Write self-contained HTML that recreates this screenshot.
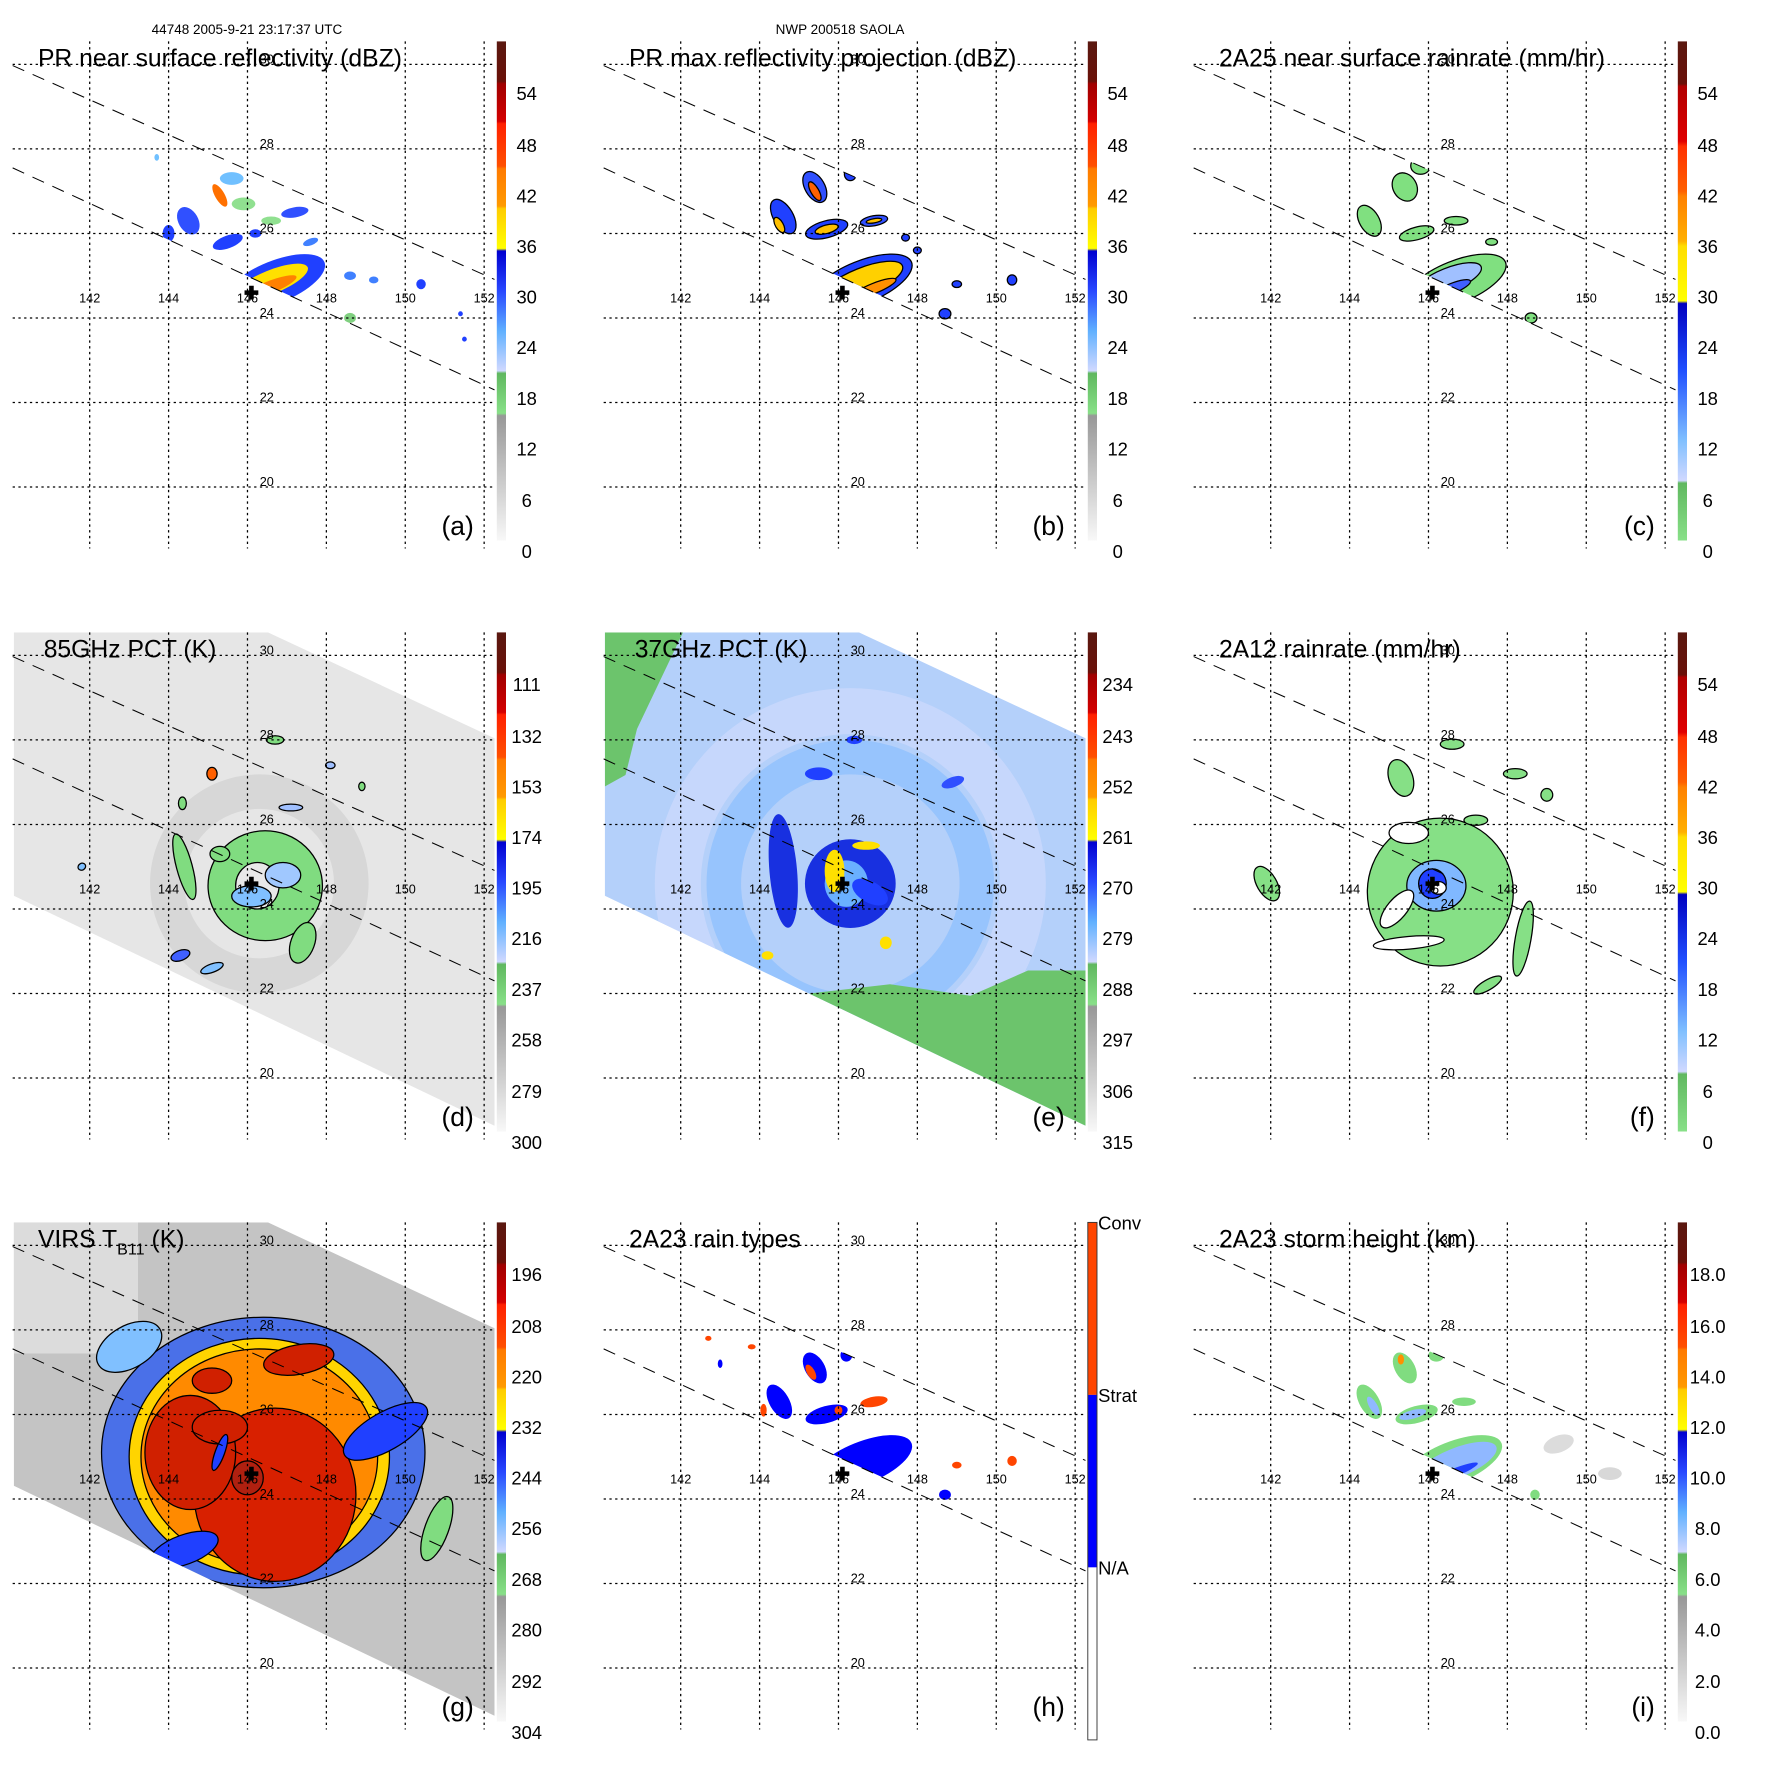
<!DOCTYPE html>
<html><head><meta charset="utf-8">
<style>
html,body{margin:0;padding:0;background:#fff}
svg{display:block;font-family:"Liberation Sans",sans-serif}
</style></head>
<body>
<svg id="fig" width="1771" height="1771" viewBox="0 0 1771 1771" xmlns="http://www.w3.org/2000/svg">
<defs>
<linearGradient id="gRain" x1="0" y1="0" x2="0" y2="1">
<stop offset="0" stop-color="#5a1810"/><stop offset="0.08" stop-color="#6a1008"/>
<stop offset="0.085" stop-color="#a00000"/><stop offset="0.16" stop-color="#d40000"/>
<stop offset="0.165" stop-color="#ff2000"/><stop offset="0.25" stop-color="#ff5000"/>
<stop offset="0.255" stop-color="#ff7a00"/><stop offset="0.33" stop-color="#ff9a00"/>
<stop offset="0.335" stop-color="#ffcc00"/><stop offset="0.415" stop-color="#ffff00"/>
<stop offset="0.42" stop-color="#0000d0"/><stop offset="0.5" stop-color="#2848ff"/>
<stop offset="0.58" stop-color="#60b0ff"/><stop offset="0.66" stop-color="#d0d8ff"/>
<stop offset="0.665" stop-color="#60b860"/><stop offset="0.745" stop-color="#88e088"/>
<stop offset="0.75" stop-color="#989898"/><stop offset="1" stop-color="#f8f8f8"/>
</linearGradient>
<linearGradient id="gRate" x1="0" y1="0" x2="0" y2="1">
<stop offset="0" stop-color="#5a1810"/><stop offset="0.085" stop-color="#6a1008"/>
<stop offset="0.09" stop-color="#b00000"/><stop offset="0.2" stop-color="#e00000"/>
<stop offset="0.21" stop-color="#ff3000"/><stop offset="0.3" stop-color="#ff6000"/>
<stop offset="0.31" stop-color="#ff8000"/><stop offset="0.4" stop-color="#ffb000"/>
<stop offset="0.41" stop-color="#ffdd00"/><stop offset="0.52" stop-color="#ffff00"/>
<stop offset="0.525" stop-color="#0000c0"/><stop offset="0.66" stop-color="#2050ff"/>
<stop offset="0.8" stop-color="#80c0ff"/><stop offset="0.88" stop-color="#d0d8ff"/>
<stop offset="0.885" stop-color="#60b860"/><stop offset="1" stop-color="#88e088"/>
</linearGradient>
<clipPath id="cpSwath"><polygon points="12,36 233,36 430,128 430,465 12,265"/></clipPath>
<clipPath id="cpPR"><polygon points="11,57 430,243 430,339 11,146"/></clipPath>
</defs>
</svg>
<script>
// ---------- data ----------
const lonTicks = [142,144,146,148,150,152];
const latTicks = [30,28,26,24,22,20];
const cbLabelsA = ["54","48","42","36","30","24","18","12","6","0"];
const cbLabelsD = ["111","132","153","174","195","216","237","258","279","300"];
const cbLabelsE = ["234","243","252","261","270","279","288","297","306","315"];
const cbLabelsG = ["196","208","220","232","244","256","268","280","292","304"];
const cbLabelsI = ["18.0","16.0","14.0","12.0","10.0","8.0","6.0","4.0","2.0","0.0"];
const cbLabelsH = ["Conv","Strat","N/A"];
const stormCenter = [146.1, 24.6];
// blobs: [lon, lat, rLon, rLat, rotationDeg, fill]
const blobsA = [
 [146.7,24.85,1.35,0.5,-22,"#2040ff"],[146.6,24.85,1.0,0.28,-22,"#ffe000"],[146.5,24.7,0.8,0.15,-22,"#ff8000"],
 [144.5,26.3,0.25,0.35,-30,"#3050ff"],[145.3,26.9,0.12,0.3,-30,"#ff7000"],[145.6,27.3,0.3,0.15,0,"#70c0ff"],
 [145.5,25.8,0.4,0.15,-20,"#2040ff"],[146.2,26.0,0.15,0.1,0,"#2040ff"],[147.2,26.5,0.35,0.12,-10,"#3050ff"],
 [147.6,25.8,0.2,0.08,-20,"#4080ff"],[148.6,25.0,0.15,0.1,0,"#4080ff"],[150.4,24.8,0.12,0.12,0,"#2040ff"],
 [148.6,24.0,0.15,0.12,0,"#80d080"],[149.2,24.9,0.12,0.08,0,"#4080ff"],[151.4,24.1,0.06,0.06,0,"#2040ff"],
 [151.5,23.5,0.06,0.06,0,"#2040ff"],[144.0,26.0,0.15,0.2,0,"#2040ff"],[143.7,27.8,0.06,0.08,0,"#70c0ff"],
 [145.9,26.7,0.3,0.15,0,"#90e090"],[146.6,26.3,0.25,0.1,0,"#90e090"]
];
const blobsB = [
 [146.6,24.85,1.35,0.5,-22,"#2040ff"],[146.6,24.85,1.1,0.33,-22,"#ffd000"],[146.9,24.7,0.6,0.12,-22,"#ff9000"],
 [144.6,26.4,0.25,0.45,-30,"#2040ff"],[144.5,26.2,0.1,0.2,-30,"#ffc000"],[145.4,27.1,0.25,0.4,-30,"#3050ff"],
 [145.4,27.0,0.1,0.25,-30,"#ff6000"],[145.7,26.1,0.55,0.2,-15,"#2040ff"],[145.7,26.1,0.3,0.1,-15,"#ffc000"],
 [146.9,26.3,0.35,0.12,-10,"#3050ff"],[146.9,26.3,0.2,0.05,-10,"#ffc000"],[146.3,27.4,0.15,0.15,0,"#2040ff"],
 [150.4,24.9,0.12,0.12,0,"#2040ff"],[148.7,24.1,0.15,0.12,0,"#2040ff"],[149.0,24.8,0.12,0.08,0,"#2040ff"],
 [148.0,25.6,0.1,0.08,0,"#2040ff"],[147.7,25.9,0.1,0.08,0,"#2040ff"]
];
const blobsC = [
 [146.7,24.85,1.35,0.5,-22,"#80e080"],[146.5,24.9,0.9,0.28,-22,"#a0c0ff"],[146.6,24.7,0.5,0.12,-22,"#4060ff"],
 [144.5,26.3,0.25,0.4,-30,"#80e080"],[145.4,27.1,0.3,0.35,-30,"#80e080"],[145.8,27.6,0.25,0.2,0,"#80e080"],
 [145.7,26.0,0.45,0.15,-15,"#80e080"],[146.7,26.3,0.3,0.1,0,"#80e080"],[148.6,24.0,0.15,0.12,0,"#80e080"],
 [147.6,25.8,0.15,0.08,0,"#80e080"]
];
const blobsD = [
 [146.45,24.55,1.45,1.3,0,"#80dc80"],[146.25,24.55,0.55,0.55,0,"#e8e8e8"],[146.1,24.3,0.5,0.25,0,"#80c0ff"],
 [146.9,24.8,0.45,0.3,0,"#a0c8ff"],[144.4,25.0,0.2,0.8,-15,"#80dc80"],[145.3,25.3,0.25,0.18,0,"#80dc80"],
 [144.35,26.5,0.1,0.15,0,"#80dc80"],[145.1,27.2,0.13,0.15,0,"#ff6000"],[146.7,28.0,0.22,0.1,0,"#80dc80"],
 [147.1,26.4,0.3,0.08,0,"#a0c0ff"],[144.3,22.9,0.25,0.12,-20,"#4060ff"],[145.1,22.6,0.3,0.1,-20,"#80c0ff"],
 [147.4,23.2,0.3,0.5,20,"#80dc80"],[141.8,25.0,0.1,0.08,-30,"#80c0ff"],[148.1,27.4,0.12,0.08,0,"#a0c0ff"],
 [148.9,26.9,0.08,0.1,0,"#80dc80"]
];
const blobsE = [
 [146.3,24.6,1.15,1.05,0,"#1830e0"],[146.2,24.6,0.55,0.55,0,"#6ab0ff"],[144.6,24.9,0.35,1.35,-5,"#1830e0"],
 [145.9,24.9,0.25,0.5,0,"#ffe000"],[146.7,25.5,0.35,0.1,0,"#ffe000"],[146.8,24.4,0.5,0.25,30,"#2040ff"],
 [145.5,27.2,0.35,0.15,0,"#2040ff"],[146.4,28.0,0.2,0.1,0,"#2040ff"],[147.2,23.2,0.15,0.15,0,"#ffe000"],
 [144.2,22.9,0.15,0.1,0,"#ffe000"],[148.9,27.0,0.3,0.12,-20,"#3050ff"]
];
const blobsF = [
 [146.3,24.4,1.85,1.75,0,"#86e086"],[146.2,24.55,0.75,0.6,0,"#80b8ff"],[146.1,24.6,0.35,0.35,0,"#2040ff"],
 [146.25,24.5,0.2,0.15,0,"#ffffff"],[145.2,24.0,0.25,0.55,40,"#ffffff"],[145.5,23.2,0.9,0.15,-5,"#ffffff"],
 [145.5,25.8,0.5,0.25,0,"#ffffff"],[145.3,27.1,0.3,0.45,-20,"#86e086"],[146.6,27.9,0.3,0.12,0,"#86e086"],
 [148.4,23.3,0.2,0.9,10,"#86e086"],[147.5,22.2,0.4,0.12,-30,"#86e086"],[141.9,24.6,0.25,0.45,-30,"#86e086"],
 [147.2,26.1,0.3,0.12,0,"#86e086"],[148.2,27.2,0.3,0.12,0,"#86e086"],[149.0,26.7,0.15,0.15,0,"#86e086"]
];
const blobsG = [
 [146.4,25.1,4.1,3.2,0,"#4a70e8"],[146.3,25.0,3.3,2.8,0,"#ffd400"],[146.3,25.0,3.0,2.55,0,"#ff8a00"],
 [146.7,24.1,2.05,2.05,0,"#d82000"],[144.55,25.1,1.15,1.35,0,"#d02000"],[145.3,25.7,0.7,0.4,0,"#d02000"],
 [147.3,27.3,0.9,0.35,-10,"#d02000"],[145.1,26.8,0.5,0.3,0,"#d02000"],[145.3,25.1,0.12,0.45,20,"#2040ff"],
 [146.0,24.5,0.4,0.4,0,"#b02010"],[149.5,25.6,1.2,0.45,-30,"#2040ff"],[144.4,22.8,0.9,0.35,-20,"#2040ff"],
 [150.8,23.3,0.3,0.8,20,"#80dc80"],[143.0,27.6,0.9,0.5,-30,"#80c0ff"]
];
const blobsH = [
 [146.6,24.85,1.35,0.5,-22,"#0000ff"],[144.5,26.3,0.25,0.45,-30,"#0000ff"],[145.4,27.1,0.25,0.4,-30,"#0000ff"],
 [145.3,27.0,0.1,0.2,-30,"#ff4500"],[145.7,26.0,0.55,0.2,-15,"#0000ff"],[146.9,26.3,0.35,0.12,-10,"#ff4500"],
 [146.2,27.4,0.15,0.15,0,"#0000ff"],[146.0,26.1,0.1,0.1,0,"#ff4500"],[144.1,26.1,0.08,0.15,0,"#ff4500"],
 [150.4,24.9,0.12,0.12,0,"#ff4500"],[148.7,24.1,0.15,0.12,0,"#0000ff"],[149.0,24.8,0.12,0.08,0,"#ff4500"],
 [142.7,27.8,0.08,0.06,0,"#ff4500"],[143.8,27.6,0.1,0.06,0,"#ff4500"],[143.0,27.2,0.06,0.1,0,"#0000ff"]
];
const blobsI = [
 [146.6,24.85,1.35,0.5,-22,"#80dc80"],[146.7,24.85,1.1,0.35,-22,"#90b8ff"],[146.6,24.6,0.7,0.1,-22,"#2040ff"],
 [144.5,26.3,0.25,0.45,-30,"#80dc80"],[144.6,26.2,0.1,0.25,-30,"#90b8ff"],[145.4,27.1,0.25,0.4,-30,"#80dc80"],
 [145.3,27.3,0.08,0.12,0,"#ff9000"],[145.7,26.0,0.55,0.2,-15,"#80dc80"],[145.6,26.0,0.35,0.1,-15,"#90b8ff"],
 [146.9,26.3,0.3,0.1,0,"#80dc80"],[146.2,27.4,0.2,0.15,0,"#80dc80"],[148.7,24.1,0.12,0.12,0,"#80dc80"],
 [149.3,25.3,0.4,0.2,-20,"#dcdcdc"],[150.6,24.6,0.3,0.15,0,"#d8d8d8"]
];

// ---------- rendering ----------
const NS = "http://www.w3.org/2000/svg";
const svg = document.getElementById("fig");
function el(tag, attrs, parent){const e=document.createElementNS(NS,tag);for(const k in attrs)e.setAttribute(k,attrs[k]);(parent||svg).appendChild(e);return e;}
const xs = lon => 78 + (lon-142)*34.3;
const ys = lat => 56 + (30-lat)*36.75;
const labelY = [81,126,170,214,258,302,346,390,435,479];
const PS = 1.15;

function drawBlobs(g, blobs, stroke){
  blobs.forEach(b=>{
    const cx=xs(b[0]), cy=ys(b[1]);
    const e=el("ellipse",{cx:cx,cy:cy,rx:b[2]*34.3,ry:b[3]*36.75,transform:`rotate(${b[4]} ${cx} ${cy})`,fill:b[5],stroke:stroke||"none","stroke-width":1.1},g);
    
    
  });
}

function panel(col,row,opt){
  const ox=[0,591,1181][col], oy=[0,591,1181][row];
  const g=el("g",{transform:`translate(${ox},${oy}) scale(${PS})`});
  
  
  if(opt.bg){
    const bg=el("g",{"clip-path":"url(#cpSwath)"},g);
    
    
    opt.bg(bg);
  }
  const dg=el("g",{"clip-path":opt.clip||"none"},g);
  
  
  drawBlobs(dg,opt.blobs,opt.stroke);
  lonTicks.forEach(l=>{
    const ln=el("line",{x1:xs(l),x2:xs(l),y1:36,y2:477,stroke:"#000","stroke-width":1.1,"stroke-dasharray":"2,3"},g);
    
    
    const t=el("text",{x:xs(l),y:263,"font-size":11,"text-anchor":"middle"},g);t.textContent=l;
    
    
  });
  latTicks.forEach(l=>{
    const ln=el("line",{x1:11,x2:430,y1:ys(l),y2:ys(l),stroke:"#000","stroke-width":1.1,"stroke-dasharray":"2,3"},g);
    
    
    const t=el("text",{x:232,y:ys(l)-1,"font-size":11,"text-anchor":"middle"},g);t.textContent=l;
    
    
  });
  [[11,57,430,243],[11,146,430,339]].forEach(s=>{
    const ln=el("line",{x1:s[0],y1:s[1],x2:s[2],y2:s[3],stroke:"#000","stroke-width":0.9,"stroke-dasharray":"11,8"},g);
    
    
  });
  const cx=xs(stormCenter[0]), cy=ys(stormCenter[1]);
  const pl=el("path",{d:`M${cx-6} ${cy}H${cx+6}M${cx} ${cy-6}V${cy+6}`,stroke:"#000","stroke-width":4},g);
  
  
  const t=el("text",{x:opt.tx||33,y:58,"font-size":21.5},g);
  if(opt.titleHTML){t.innerHTML=opt.titleHTML;}else t.textContent=opt.title;
  
  
  const lt=el("text",{x:412,y:465,"font-size":23,"text-anchor":"end"},g);lt.textContent="("+opt.letter+")";
  
  
  if(opt.cbType==="h"){
    const top=36;
    [["#ff4500",0],["#0000ff",150],["#ffffff",300]].forEach(s=>{
      const r=el("rect",{x:432,y:top+s[1],width:8,height:150,fill:s[0]},g);
      
      
    });
    const br=el("rect",{x:432,y:top,width:8,height:450,fill:"none",stroke:"#333","stroke-width":0.8},g);
    
    
    cbLabelsH.forEach((s,i)=>{
      const tx=el("text",{x:441,y:top+i*150+6,"font-size":16},g);tx.textContent=s;
      
      
    });
  } else {
    const r=el("rect",{x:432,y:36,width:8,height:434,fill:`url(#${opt.cbType})`},g);
    
    
    opt.cbLabels.forEach((s,i)=>{
      const tx=el("text",{x:458,y:labelY[i]+6,"font-size":16,"text-anchor":"middle"},g);tx.textContent=s;
      
      
    });
  }
}

panel(0,0,{letter:"a",title:"PR near surface reflectivity (dBZ)",blobs:blobsA,clip:"url(#cpPR)",cbType:"gRain",cbLabels:cbLabelsA});
panel(1,0,{letter:"b",title:"PR max reflectivity projection (dBZ)",blobs:blobsB,clip:"url(#cpPR)",stroke:"#000",cbType:"gRain",cbLabels:cbLabelsA});
panel(2,0,{letter:"c",title:"2A25 near surface rainrate (mm/hr)",blobs:blobsC,clip:"url(#cpPR)",stroke:"#000",cbType:"gRate",cbLabels:cbLabelsA});
panel(0,1,{letter:"d",title:"85GHz PCT (K)",tx:38,blobs:blobsD,stroke:"#000",cbType:"gRain",cbLabels:cbLabelsD,
  bg:g=>{el("rect",{x:0,y:0,width:440,height:480,fill:"#e6e6e6"},g);
         el("circle",{cx:xs(146.3),cy:ys(24.6),r:80,fill:"none",stroke:"#c8c8c8","stroke-width":30,opacity:0.5},g);}});
panel(1,1,{letter:"e",title:"37GHz PCT (K)",tx:38,blobs:blobsE,cbType:"gRain",cbLabels:cbLabelsE,
  bg:g=>{el("rect",{x:0,y:0,width:440,height:480,fill:"#b4d0fa"},g);
         el("circle",{cx:xs(146.3),cy:ys(24.6),r:150,fill:"none",stroke:"#cad8fc","stroke-width":40,opacity:0.8},g);
         el("polygon",{points:"12,36 80,36 40,120 30,160 12,170",fill:"#6cc46c"},g);
         el("circle",{cx:xs(146.3),cy:ys(24.6),r:110,fill:"none",stroke:"#7ab8ff","stroke-width":30,opacity:0.5},g);
         el("polygon",{points:"190,350 260,342 330,352 380,330 430,330 430,465 190,355",fill:"#6cc46c"},g);}});
panel(2,1,{letter:"f",title:"2A12 rainrate (mm/hr)",blobs:blobsF,stroke:"#000",cbType:"gRate",cbLabels:cbLabelsA});
panel(0,2,{letter:"g",titleHTML:'VIRS T<tspan font-size="14" dy="6">B11</tspan><tspan dy="-6"> (K)</tspan>',blobs:blobsG,stroke:"#000",clip:"url(#cpSwath)",cbType:"gRain",cbLabels:cbLabelsG,
  bg:g=>{el("rect",{x:0,y:0,width:440,height:480,fill:"#c4c4c4"},g);
         el("rect",{x:0,y:0,width:120,height:150,fill:"#dcdcdc"},g);}});
panel(1,2,{letter:"h",title:"2A23 rain types",blobs:blobsH,clip:"url(#cpPR)",cbType:"h"});
panel(2,2,{letter:"i",title:"2A23 storm height (km)",blobs:blobsI,clip:"url(#cpPR)",cbType:"gRain",cbLabels:cbLabelsI});

const h1=el("text",{x:247,y:34,"font-size":13.5,"text-anchor":"middle"});h1.textContent="44748 2005-9-21 23:17:37 UTC";


const h2=el("text",{x:840,y:34,"font-size":13.5,"text-anchor":"middle"});h2.textContent="NWP 200518 SAOLA";


</script>
</body></html>
